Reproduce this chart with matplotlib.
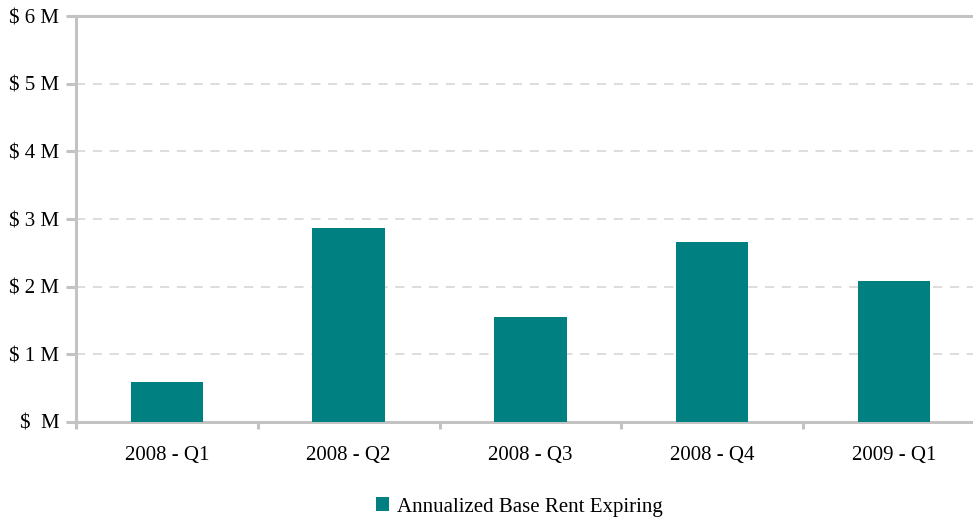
import matplotlib
matplotlib.use("Agg")
import matplotlib.pyplot as plt
from matplotlib.patches import Patch

categories = ["2008 - Q1", "2008 - Q2", "2008 - Q3", "2008 - Q4", "2009 - Q1"]
values = [0.59, 2.87, 1.55, 2.66, 2.08]
yticks = [0, 1, 2, 3, 4, 5, 6]
ytick_labels = ["$  M", "$ 1 M", "$ 2 M", "$ 3 M", "$ 4 M", "$ 5 M", "$ 6 M"]
series_name = "Annualized Base Rent Expiring"

plt.rcParams['font.family'] = ['Liberation Serif', 'DejaVu Serif']
W, H = 973, 517
fig = plt.figure(figsize=(W/100, H/100), dpi=100)
left, right, top, bottom = 76, 984.75, 16, 422
ax = fig.add_axes([left/W, 1 - bottom/H, (right-left)/W, (bottom-top)/H])

gray = "#c3c3c3"
x = list(range(len(categories)))
ax.bar(x, values, width=0.40, color="#008080", zorder=3)
ax.set_xlim(-0.5, len(categories) - 0.5)
ax.set_ylim(0, 6)
ax.set_yticks(yticks)
ax.set_yticklabels(ytick_labels, fontsize=15)
ax.set_xticks([i + 0.5 for i in range(-1, len(categories))], minor=False)
ax.set_xticklabels([])
ax.set_xticks(x, minor=True)
ax.set_xticklabels(categories, minor=True, fontsize=15)
ax.tick_params(axis='x', which='minor', length=0, pad=17)
ax.tick_params(axis='x', which='major', length=5, width=2.2, color=gray)
ax.tick_params(axis='y', length=7, width=2.2, color=gray, pad=5)

for s in ['left', 'bottom', 'top']:
    ax.spines[s].set_color(gray)
    ax.spines[s].set_linewidth(2.2)
ax.spines['right'].set_visible(False)

for yv in yticks[1:-1]:
    ax.axhline(yv, color="#d3d3d3", linewidth=1.1, linestyle=(0, (6, 5)), zorder=1)

handle = Patch(facecolor="#008080", edgecolor="none")
fig.legend([handle], [series_name], loc='center', bbox_to_anchor=(519/W, 1 - 507/H),
           frameon=False, fontsize=15, handlelength=0.65, handleheight=0.65, handletextpad=0.35)

fig.savefig("out.png", dpi=100)
